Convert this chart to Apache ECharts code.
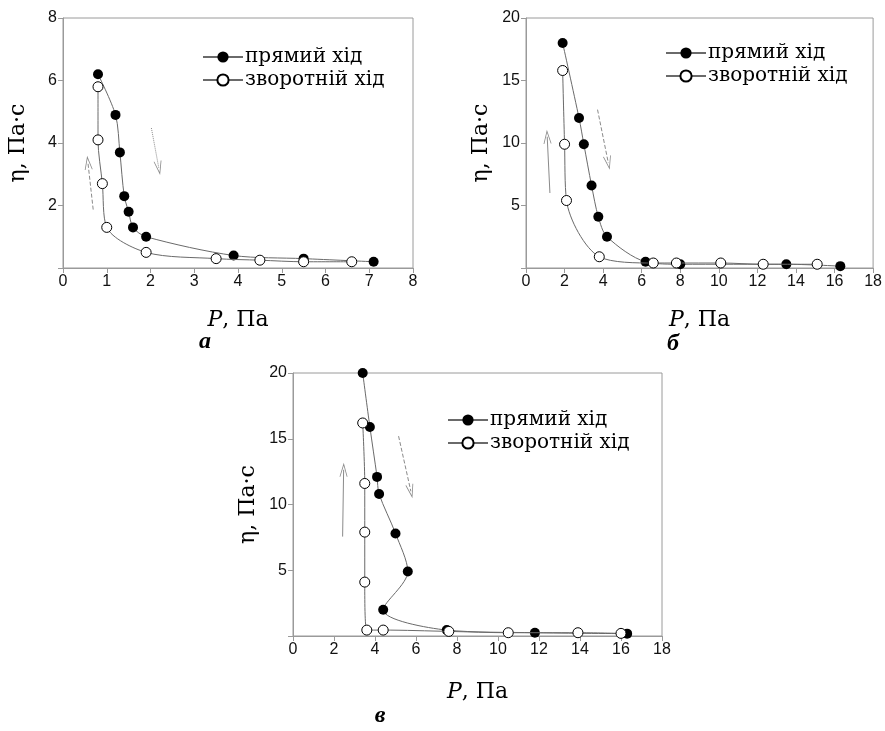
<!DOCTYPE html>
<html>
<head>
<meta charset="utf-8">
<script src="https://cdn.jsdelivr.net/npm/echarts@6/dist/echarts.min.js"></script>
<style>html,body{margin:0;padding:0;background:#fff;}#c{width:885px;height:731px;}</style>
</head>
<body>
<div id="c"></div>
<script>
// ---- data ----
var seriesNames = ['прямий хід', 'зворотній хід'];
var panelLabels = ['а', 'б', 'в'];
// panel а
var aForward = [[0.8,6.2],[1.2,4.9],[1.3,3.7],[1.4,2.3],[1.5,1.8],[1.6,1.3],[1.9,1.0],[3.9,0.4],[5.5,0.3],[7.1,0.2]];
var aReverse = [[6.6,0.2],[5.5,0.2],[4.5,0.25],[3.5,0.3],[1.9,0.5],[1.0,1.3],[0.9,2.7],[0.8,4.1],[0.8,5.8]];
// panel б
var bForward = [[1.9,18],[2.75,12],[3.0,9.9],[3.4,6.6],[3.75,4.1],[4.2,2.5],[6.2,0.5],[8.0,0.3],[13.5,0.3],[16.3,0.15]];
var bReverse = [[15.1,0.3],[12.3,0.3],[10.1,0.4],[7.8,0.4],[6.6,0.4],[3.8,0.9],[2.1,5.4],[2.0,9.9],[1.9,15.8]];
// panel в
var cForward = [[3.4,20],[3.75,15.9],[4.1,12.1],[4.2,10.8],[5.0,7.8],[5.6,4.9],[4.4,2.0],[7.5,0.45],[11.8,0.25],[16.3,0.18]];
var cReverse = [[16.0,0.2],[13.9,0.25],[10.5,0.25],[7.6,0.35],[4.4,0.45],[3.6,0.45],[3.5,4.1],[3.5,7.9],[3.5,11.6],[3.4,16.2]];
// direction arrows [from, to] per panel
var aArrows = [[[0.69,1.87],[0.57,3.37]], [[2.02,4.48],[2.19,3.2]]];
var bArrows = [[[1.24,6.0],[1.1,10.5]], [[3.71,12.67],[4.27,8.4]]];
var cArrows = [[[2.42,7.56],[2.47,12.64]], [[5.15,15.2],[5.75,11.0]]];
// axis ranges / ticks
var xMax = [8, 18, 18];
var xStep = [1, 2, 2];
var yMax = [8, 20, 20];
var yStep = [2, 5, 5];

// ---- chart ----
var chart = echarts.init(document.getElementById('c'));
var grids = [
  {left: 63, top: 18, width: 350, height: 250},
  {left: 526, top: 18, width: 348, height: 250},
  {left: 293, top: 373, width: 369, height: 263}
];
var serif = 'DejaVu Serif';
var axisColor = '#9a9a9a';
var lineColor = '#6a6a6a';

var xAxes = [], yAxes = [], series = [], legends = [];
var fwd = [aForward, bForward, cForward];
var rev = [aReverse, bReverse, cReverse];
var arrows = [aArrows, bArrows, cArrows];
var xNameGap = [41, 41, 45];
var legendPos = [{left: 197, top: 42}, {left: 660, top: 38}, {left: 442, top: 405}];
var arrowStyles = [['dashed','dotted'], ['solid','dashed'], ['solid','dashed']];

for (var i = 0; i < 3; i++) {
  grids[i].show = true;
  grids[i].borderColor = axisColor;
  grids[i].borderWidth = 1;
  xAxes.push({
    type: 'value', gridIndex: i, min: 0, max: xMax[i], interval: xStep[i],
    name: '{i|P}, Па', nameLocation: 'middle', nameGap: xNameGap[i],
    nameTextStyle: {fontFamily: serif, fontSize: 22, color: '#000',
      rich: {i: {fontFamily: serif, fontStyle: 'italic', fontSize: 22, color: '#000'}}},
    axisLine: {show: true, lineStyle: {color: axisColor, width: 1}},
    axisTick: {show: true, length: 5, lineStyle: {color: axisColor}},
    axisLabel: {fontFamily: 'Liberation Sans', fontSize: 16, color: '#111', margin: 6},
    splitLine: {show: false}
  });
  yAxes.push({
    type: 'value', gridIndex: i, min: 0, max: yMax[i], interval: yStep[i],
    name: 'η, Па·с', nameLocation: 'middle', nameGap: 34,
    nameTextStyle: {fontFamily: serif, fontSize: 22, color: '#000'},
    axisLine: {show: true, lineStyle: {color: axisColor, width: 1}},
    axisTick: {show: true, length: 5, lineStyle: {color: axisColor}},
    axisLabel: {fontFamily: 'Liberation Sans', fontSize: 16, color: '#111', margin: 6,
      formatter: function (v) { return v === 0 ? '' : String(v); }},
    splitLine: {show: false}
  });
  series.push({
    name: seriesNames[0], type: 'line', xAxisIndex: i, yAxisIndex: i,
    data: fwd[i], smooth: 0.3, symbol: 'circle', symbolSize: 10,
    itemStyle: {color: '#000', borderColor: '#000', borderWidth: 0},
    lineStyle: {color: lineColor, width: 1}, z: 3
  });
  series.push({
    name: seriesNames[1], type: 'line', xAxisIndex: i, yAxisIndex: i,
    data: rev[i], smooth: 0.3, symbol: 'circle', symbolSize: 10,
    itemStyle: {color: '#fff', borderColor: '#000', borderWidth: 1},
    lineStyle: {color: lineColor, width: 1}, z: 4
  });
  var ml = arrows[i].map(function (ar, k) {
    return [{coord: ar[0], lineStyle: {type: arrowStyles[i][k]}}, {coord: ar[1]}];
  });
  series.push({
    type: 'line', xAxisIndex: i, yAxisIndex: i, data: [], silent: true,
    markLine: {
      silent: true, animation: false,
      symbol: ['none', 'path://M0,12 L5,0 L10,12 L9,12 L5,2.5 L1,12 Z'],
      symbolSize: [8, 14],
      label: {show: false},
      lineStyle: {color: '#8a8a8a', width: 1},
      data: ml
    }
  });
  legends.push({
    left: legendPos[i].left, top: legendPos[i].top, orient: 'vertical',
    itemWidth: 40, itemHeight: 14, itemGap: 3,
    data: seriesNames,
    selectedMode: false,
    textStyle: {fontFamily: serif, fontSize: 20, color: '#000', padding: [0,0,0,-3]}
  });
}

var labelPos = [[205, 342], [673, 344], [380, 716]];
var graphics = labelPos.map(function (p, k) {
  return {type: 'text', x: p[0], y: p[1], style: {text: panelLabels[k], fontFamily: 'Liberation Serif',
    fontStyle: 'italic', fontWeight: 'bold', fontSize: 24, fill: '#000',
    textAlign: 'center', textVerticalAlign: 'middle'}};
});

chart.setOption({
  animation: false,
  backgroundColor: '#fff',
  grid: grids,
  xAxis: xAxes,
  yAxis: yAxes,
  legend: legends,
  series: series,
  graphic: graphics
});
</script>
</body>
</html>
